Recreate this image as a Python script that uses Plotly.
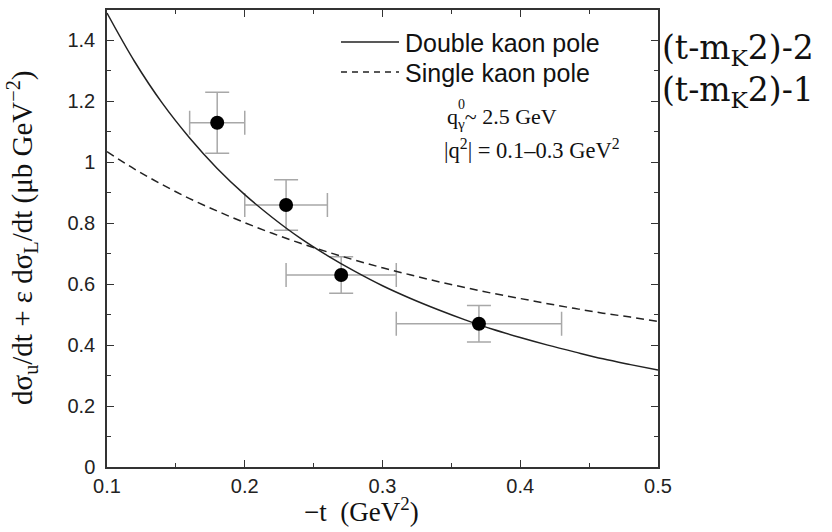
import plotly.graph_objects as go

# Measured cross sections vs -t
t_data = [0.18, 0.23, 0.27, 0.37]
sigma_data = [1.13, 0.86, 0.63, 0.47]
sigma_err = [0.10, 0.083, 0.06, 0.06]
t_err = [0.02, 0.03, 0.04, 0.06]

# Model curves sampled along -t
t_curve = [0.10, 0.12, 0.14, 0.16, 0.18, 0.20, 0.22, 0.24, 0.26, 0.28, 0.30,
           0.32, 0.34, 0.36, 0.38, 0.40, 0.42, 0.44, 0.46, 0.48, 0.50]
double_pole = [1.490, 1.331, 1.195, 1.080, 0.980, 0.894, 0.819, 0.752, 0.694, 0.642, 0.595,
               0.554, 0.517, 0.483, 0.452, 0.425, 0.400, 0.377, 0.355, 0.336, 0.318]
single_pole = [1.035, 0.978, 0.927, 0.881, 0.840, 0.802, 0.767, 0.735, 0.706, 0.679, 0.654,
               0.631, 0.609, 0.589, 0.570, 0.553, 0.536, 0.520, 0.505, 0.492, 0.478]

x_ticks = [0.1, 0.2, 0.3, 0.4, 0.5]
x_ticklabels = ["0.1", "0.2", "0.3", "0.4", "0.5"]
y_ticks = [0, 0.2, 0.4, 0.6, 0.8, 1.0, 1.2, 1.4]
y_ticklabels = ["0", "0.2", "0.4", "0.6", "0.8", "1", "1.2", "1.4"]

legend_names = ["Double kaon pole", "Single kaon pole"]
pole_forms = ["(t-m<sub>K</sub>2)-2", "(t-m<sub>K</sub>2)-1"]

W, H = 832, 532
L, R, T, B = 107, 174, 10, 65
PW, PH = W - L - R, H - T - B

def px(xp):
    return (xp - L) / PW

def py(yp):
    return (H - B - yp) / PH

AXIS = "#333333"
SANS = "Liberation Sans, Arial, sans-serif"
SERIF = "Liberation Serif, Times New Roman, serif"

fig = go.Figure()

# error bars
fig.add_trace(go.Scatter(
    x=t_data, y=sigma_data, mode="markers",
    marker=dict(size=1, color="rgba(0,0,0,0)"),
    error_y=dict(type="data", array=sigma_err, color="#a8a8a8", thickness=1.5, width=12),
    error_x=dict(type="data", array=t_err, color="#a8a8a8", thickness=1.5, width=12),
    showlegend=False, hoverinfo="skip",
))

fig.add_trace(go.Scatter(
    x=t_curve, y=double_pole, mode="lines", name=legend_names[0],
    line=dict(color="#222222", width=1.5, shape="spline"), showlegend=False,
))
fig.add_trace(go.Scatter(
    x=t_curve, y=single_pole, mode="lines", name=legend_names[1],
    line=dict(color="#222222", width=1.5, dash="8px,5px", shape="spline"), showlegend=False,
))

fig.add_trace(go.Scatter(
    x=t_data, y=sigma_data, mode="markers",
    marker=dict(size=14, color="black"), showlegend=False,
))

# legend drawn inside the frame
leg_rows = [42, 72]
shapes = [
    dict(type="line", xref="paper", yref="paper", x0=px(341), x1=px(399),
         y0=py(leg_rows[0]), y1=py(leg_rows[0]), line=dict(color="#222222", width=1.5)),
    dict(type="line", xref="paper", yref="paper", x0=px(341), x1=px(399),
         y0=py(leg_rows[1]), y1=py(leg_rows[1]), line=dict(color="#222222", width=1.5, dash="6px,5px")),
]
annotations = []
for name, yrow in zip(legend_names, leg_rows):
    annotations.append(dict(
        text=name, xref="paper", yref="paper", x=px(403), y=py(yrow + 1),
        xanchor="left", yanchor="middle", showarrow=False,
        font=dict(family=SANS, size=25, color="#111111"),
    ))

# kinematics labels
annotations.append(dict(
    text="q<sub>γ</sub>~ 2.5 GeV", xref="paper", yref="paper", x=px(445), y=py(118),
    xanchor="left", yanchor="middle", showarrow=False,
    font=dict(family=SERIF, size=22, color="#111111"),
))
annotations.append(dict(
    text="0", xref="paper", yref="paper", x=px(456), y=py(104),
    xanchor="left", yanchor="middle", showarrow=False,
    font=dict(family=SERIF, size=14, color="#111111"),
))
annotations.append(dict(
    text="|q<sup>2</sup>| = 0.1–0.3 GeV<sup>2</sup>", xref="paper", yref="paper", x=px(442), y=py(149),
    xanchor="left", yanchor="middle", showarrow=False,
    font=dict(family=SERIF, size=22.5, color="#111111"),
))

# pole forms to the right of the frame
for txt, yc in zip(pole_forms, [49, 91]):
    annotations.append(dict(
        text=txt, xref="paper", yref="paper", x=px(660), y=py(yc),
        xanchor="left", yanchor="middle", showarrow=False,
        font=dict(family="DejaVu Serif, serif", size=33, color="#111111"),
    ))

# axis titles
annotations.append(dict(
    text="−t  (GeV<sup>2</sup>)", xref="paper", yref="paper", x=px(361), y=py(510),
    xanchor="center", yanchor="middle", showarrow=False,
    font=dict(family=SERIF, size=27, color="#111111"),
))
annotations.append(dict(
    text="dσ<sub>u</sub>/dt + ε dσ<sub>L</sub>/dt (μb GeV<sup>−2</sup>)",
    xref="paper", yref="paper", x=px(22), y=py(238), textangle=-90,
    xanchor="center", yanchor="middle", showarrow=False,
    font=dict(family=SERIF, size=29, color="#111111"),
))

axis_common = dict(
    showgrid=False, zeroline=False, showline=True, linecolor=AXIS, linewidth=1.5,
    mirror="allticks", ticks="inside", ticklen=7, tickwidth=1.2, tickcolor=AXIS,
    tickfont=dict(family=SANS, size=20, color="#222222"),
)

fig.update_xaxes(
    range=[0.1, 0.5], tickvals=x_ticks, ticktext=x_ticklabels,
    minor=dict(dtick=0.05, ticks="inside", ticklen=4, tickwidth=1.2, tickcolor=AXIS),
    ticklabelstandoff=0,
    **axis_common,
)
fig.update_yaxes(
    range=[0, 1.5], tickvals=y_ticks, ticktext=y_ticklabels,
    minor=dict(dtick=0.1, ticks="inside", ticklen=4, tickwidth=1.2, tickcolor=AXIS),
    ticklabelstandoff=6,
    **axis_common,
)

fig.update_layout(
    width=W, height=H, margin=dict(l=L, r=R, t=T, b=B, autoexpand=False),
    paper_bgcolor="white", plot_bgcolor="white",
    shapes=shapes, annotations=annotations,
)

fig.write_html("out.html")
